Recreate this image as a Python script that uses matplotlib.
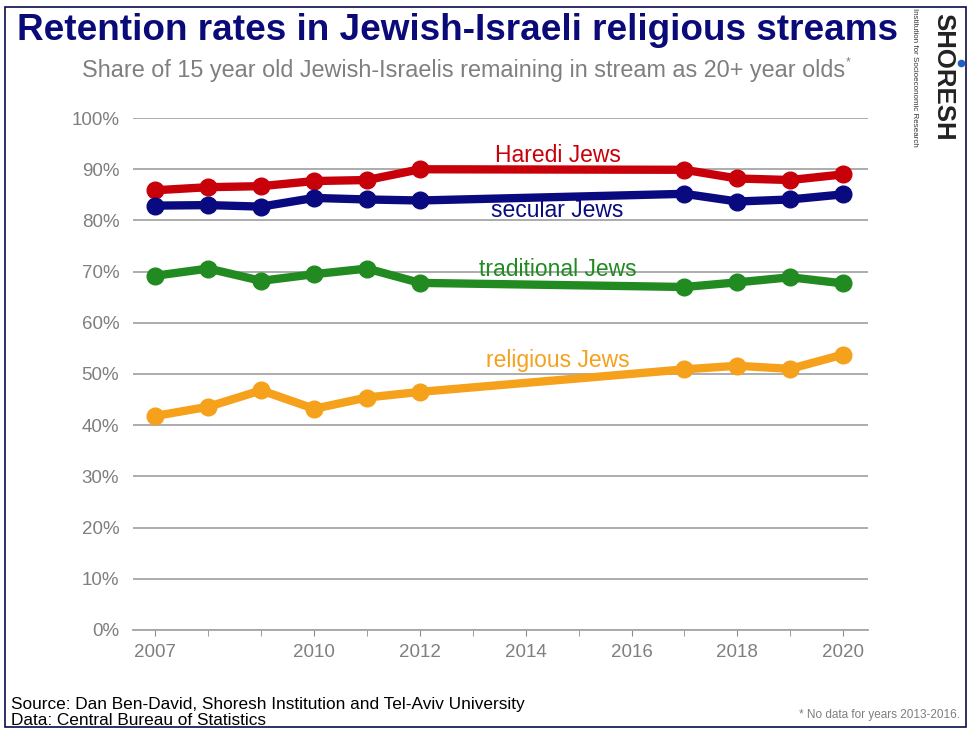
import matplotlib.pyplot as plt
from matplotlib.patches import Rectangle
from matplotlib.lines import Line2D

# Data (no data for 2013-2016)
years = [2007, 2008, 2009, 2010, 2011, 2012, 2017, 2018, 2019, 2020]
haredi = [85.9, 86.5, 86.7, 87.7, 87.9, 90.0, 89.9, 88.2, 87.9, 89.0]
secular = [82.9, 83.0, 82.7, 84.4, 84.1, 83.9, 85.2, 83.7, 84.1, 85.1]
traditional = [69.2, 70.6, 68.2, 69.5, 70.6, 67.8, 67.0, 67.9, 68.9, 67.7]
religious = [41.8, 43.6, 46.8, 43.2, 45.4, 46.5, 50.9, 51.6, 51.0, 53.8]

tick_years = [2007, 2010, 2012, 2014, 2016, 2018, 2020]
y_ticks = list(range(0, 101, 10))

series = [
    ("Haredi Jews", haredi, "#c8000a", 2014.6, 92.7),
    ("secular Jews", secular, "#0a0a80", 2014.6, 81.9),
    ("traditional Jews", traditional, "#218a21", 2014.6, 70.5),
    ("religious Jews", religious, "#f5a11c", 2014.6, 52.6),
]

fig = plt.figure(figsize=(9.72, 7.29), dpi=100)
plt.rcParams['font.family'] = ['Liberation Sans', 'DejaVu Sans']

# outer frame
fig.patches.append(Rectangle((0.005, 0.003), 0.989, 0.988, transform=fig.transFigure,
                             fill=False, edgecolor="#0a0a50", linewidth=1.2))

ax = fig.add_axes([0.137, 0.136, 0.756, 0.702])
for name, vals, col, lx, ly in series:
    ax.plot(years, vals, color=col, linewidth=6, marker="o", markersize=12,
            clip_on=False, zorder=3)
    ax.text(lx, ly, name, color=col, fontsize=16.5, ha="center", va="center", zorder=4)

ax.set_xlim(2006.58, 2020.47)
ax.set_ylim(0, 100)
ax.set_yticks(y_ticks)
ax.set_yticklabels([f"{v}%" for v in y_ticks])
ax.set_xticks(tick_years)
ax.set_xticks(range(2007, 2021), minor=True)
ax.grid(axis="y", color="#a6a6a6", linewidth=1.3)
ax.set_axisbelow(True)
for s in ["top", "right", "left"]:
    ax.spines[s].set_visible(False)
ax.spines["bottom"].set_color("#a6a6a6")
ax.spines["bottom"].set_linewidth(1.3)
ax.tick_params(axis="y", length=0, pad=10, labelsize=13.5, labelcolor="#7f7f7f")
ax.tick_params(axis="x", which="both", length=4, color="#8a8a8a", labelsize=13.5,
               labelcolor="#7f7f7f", pad=6)

fig.text(0.018, 0.958, "Retention rates in Jewish-Israeli religious streams",
         fontsize=26.6, fontweight="bold", color="#0a0a78", ha="left", va="center")
sub = fig.text(0.084, 0.903,
               "Share of 15 year old Jewish-Israelis remaining in stream as 20+ year olds",
               fontsize=16.8, color="#7f7f7f", ha="left", va="center")
fig.canvas.draw()
bb = sub.get_window_extent()
fig.text((bb.x1 + 1) / fig.bbox.width, 0.914, "*", fontsize=9, color="#7f7f7f",
         ha="left", va="center")

# logo
fig.text(0.970, 0.894, "SHORESH", rotation=-90, fontsize=18.5, fontweight="bold",
         color="#222222", ha="center", va="center")
fig.text(0.941, 0.894, "Institution for Socioeconomic Research", rotation=-90, fontsize=5.8,
         color="#333333", ha="center", va="center")
fig.add_artist(Line2D([0.9885], [0.9136], marker="o", markersize=4.5, color="#2060c0",
                      linestyle="none", transform=fig.transFigure))

fig.text(0.011, 0.034, "Source: Dan Ben-David, Shoresh Institution and Tel-Aviv University",
         fontsize=12.4, color="black", ha="left", va="center")
fig.text(0.011, 0.012, "Data: Central Bureau of Statistics",
         fontsize=12.4, color="black", ha="left", va="center")
fig.text(0.988, 0.019, "* No data for years 2013-2016.", fontsize=8.5, color="#7f7f7f",
         ha="right", va="center")

fig.savefig("out.png", dpi=100)
